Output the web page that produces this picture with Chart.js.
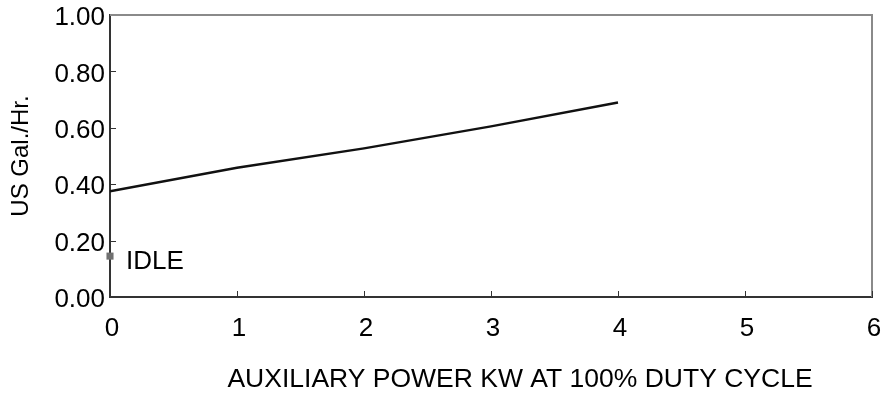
<!DOCTYPE html>
<html>
<head>
<meta charset="utf-8">
<script src="https://cdn.jsdelivr.net/npm/chart.js@4.4.0/dist/chart.umd.min.js"></script>
<style>
    html, body { margin: 0; padding: 0; background: #ffffff; }
    #wrap { width: 883px; height: 396px; }
</style>
</head>
<body>
<div id="wrap"><canvas id="grafico" width="883" height="396"></canvas></div>
<script>
// dados
const potenciaKw = [0, 1, 2, 3, 4];
const consumoGal = [0.375, 0.458, 0.527, 0.605, 0.69];
const idleX = [0];
const idleY = [0.145];
const ticksX = [0, 1, 2, 3, 4, 5, 6];
const ticksY = [0, 0.2, 0.4, 0.6, 0.8, 1.0];

const fonte = "'Liberation Sans', Arial, Helvetica, sans-serif";

// moldura cinza, tracos internos, texto IDLE e titulo do eixo x
const extras = {
    id: "extras",
    afterDraw(chart) {
        const ctx = chart.ctx;
        const area = chart.chartArea;
        const x = chart.scales.x;
        const y = chart.scales.y;

        ctx.save();
        ctx.strokeStyle = "#8a8a8a";
        ctx.lineWidth = 2;
        ctx.beginPath();
        ctx.moveTo(area.left, area.top);
        ctx.lineTo(area.right, area.top);
        ctx.lineTo(area.right, area.bottom);
        ctx.stroke();

        ctx.strokeStyle = "#333333";
        ctx.lineWidth = 1;
        for (let i = 1; i < ticksY.length - 1; i++) {
            const py = Math.round(y.getPixelForValue(ticksY[i])) + 0.5;
            ctx.beginPath();
            ctx.moveTo(area.left, py);
            ctx.lineTo(area.left + 6, py);
            ctx.stroke();
        }
        for (let i = 1; i < ticksX.length; i++) {
            const px = Math.round(x.getPixelForValue(ticksX[i])) + 0.5;
            ctx.beginPath();
            ctx.moveTo(px, area.bottom);
            ctx.lineTo(px, area.bottom - 6);
            ctx.stroke();
        }

        ctx.fillStyle = "#000000";
        ctx.font = "26px " + fonte;
        ctx.textBaseline = "middle";
        ctx.textAlign = "left";
        ctx.fillText("IDLE", x.getPixelForValue(idleX[0]) + 16, y.getPixelForValue(idleY[0]) + 6);

        ctx.textAlign = "center";
        ctx.font = "26.5px " + fonte;
        ctx.fillText("AUXILIARY POWER KW AT 100% DUTY CYCLE", 520, 380);
        ctx.restore();
    }
};

new Chart(document.getElementById("grafico"), {
    type: "scatter",
    data: {
        datasets: [
            {
                label: "Consumo",
                data: potenciaKw.map((v, i) => ({ x: v, y: consumoGal[i] })),
                showLine: true,
                borderColor: "#111111",
                borderWidth: 2.5,
                pointRadius: 0,
                tension: 0
            },
            {
                label: "IDLE",
                data: idleX.map((v, i) => ({ x: v, y: idleY[i] })),
                pointStyle: "rect",
                pointRadius: 5,
                backgroundColor: "#707070",
                borderColor: "#707070",
                borderWidth: 0,
                clip: false
            }
        ]
    },
    options: {
        responsive: false,
        animation: false,
        events: [],
        layout: {
            padding: { top: 15, right: 11, left: 0, bottom: 0 }
        },
        plugins: {
            legend: { display: false },
            tooltip: { enabled: false }
        },
        scales: {
            x: {
                type: "linear",
                min: 0,
                max: 6,
                afterBuildTicks: axis => { axis.ticks = ticksX.map(v => ({ value: v })); },
                afterFit: axis => {
                    axis.height = 99;
                    axis.paddingLeft = 0;
                    axis.paddingRight = 0;
                },
                grid: { display: false, drawTicks: false },
                border: { display: true, color: "#333333", width: 2 },
                ticks: {
                    color: "#000000",
                    padding: 16,
                    labelOffset: 2,
                    font: { family: fonte, size: 26 }
                }
            },
            y: {
                type: "linear",
                min: 0,
                max: 1,
                afterBuildTicks: axis => { axis.ticks = ticksY.map(v => ({ value: v })); },
                afterFit: axis => {
                    axis.width = 110;
                    axis.paddingTop = 0;
                    axis.paddingBottom = 0;
                },
                grid: { display: false, drawTicks: false },
                border: { display: true, color: "#333333", width: 2 },
                title: {
                    display: true,
                    text: "US Gal./Hr.",
                    color: "#000000",
                    padding: { top: 7, bottom: 0 },
                    font: { family: fonte, size: 24 }
                },
                ticks: {
                    color: "#000000",
                    padding: 5,
                    labelOffset: 3,
                    callback: v => v.toFixed(2),
                    font: { family: fonte, size: 26 }
                }
            }
        }
    },
    plugins: [extras]
});
</script>
</body>
</html>
